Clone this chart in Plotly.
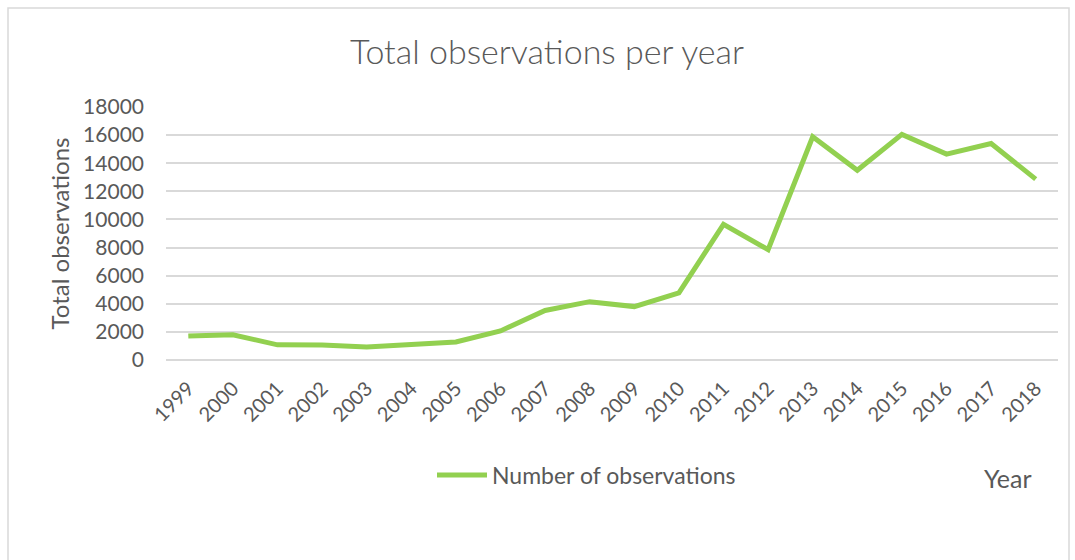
import plotly.graph_objects as go

years = ["1999", "2000", "2001", "2002", "2003", "2004", "2005", "2006", "2007", "2008",
         "2009", "2010", "2011", "2012", "2013", "2014", "2015", "2016", "2017", "2018"]
observations = [1700, 1800, 1080, 1060, 920, 1100, 1280, 2070, 3520, 4150,
                3800, 4780, 9650, 7850, 15880, 13500, 16050, 14650, 15400, 12870]
y_ticks = [0, 2000, 4000, 6000, 8000, 10000, 12000, 14000, 16000, 18000]
y_tick_text = [str(v) for v in y_ticks]

FONT = "Lato"
GREY = "#595959"
GRID = "#d9d9d9"

fig = go.Figure()
fig.add_trace(go.Scatter(
    x=years, y=observations, mode="lines", name="Number of observations",
    line=dict(color="#92d050", width=5),
))

L, R, T, B = 166, 17, 107, 200
W, H = 1075, 560
pw = W - L - R
ph = H - T - B

def px_x(p):
    return (p - L) / pw

def px_y(p):
    return (H - B - p) / ph

fig.update_layout(
    width=W, height=H,
    margin=dict(l=L, r=R, t=T, b=B),
    paper_bgcolor="white", plot_bgcolor="white",
    font=dict(family=FONT, color=GREY, size=20),
    title=dict(text="Total observations per year", x=px_x(547), xref="paper",
               y=1 - 52 / H, yanchor="middle", xanchor="center",
               font=dict(family=FONT, size=34, color=GREY, weight=300)),
    showlegend=True,
    legend=dict(orientation="h", x=px_x(432), y=px_y(475), xanchor="left", yanchor="middle",
                font=dict(family=FONT, size=23, color=GREY), bgcolor="rgba(0,0,0,0)",
                itemwidth=50),
    xaxis=dict(type="category", tickangle=-45, showgrid=False, showline=False,
               ticks="", tickfont=dict(family=FONT, size=20, color=GREY),
               ticklabelstandoff=12,
               range=[-0.5, len(years) - 0.5]),
    yaxis=dict(range=[0, 18000], tickvals=y_ticks, ticktext=y_tick_text,
               showgrid=True, gridcolor=GRID,
               gridwidth=1.5, zeroline=True, zerolinecolor=GRID, zerolinewidth=1.5,
               showline=False, ticks="", tickfont=dict(family=FONT, size=21, color=GREY),
               ticklabelstandoff=21,
               title=dict(text="Total observations", standoff=6,
                          font=dict(family=FONT, size=24, color=GREY))),
    shapes=[dict(type="rect", xref="paper", yref="paper",
                 x0=px_x(8), x1=px_x(1069), y0=px_y(600), y1=px_y(8),
                 line=dict(color=GRID, width=1.5), fillcolor="rgba(0,0,0,0)", layer="below")],
    annotations=[dict(text="Year", xref="paper", yref="paper", x=px_x(1008), y=px_y(478),
                      showarrow=False, xanchor="center", yanchor="middle",
                      font=dict(family=FONT, size=25, color=GREY))],
)

fig.write_html("out.html")
